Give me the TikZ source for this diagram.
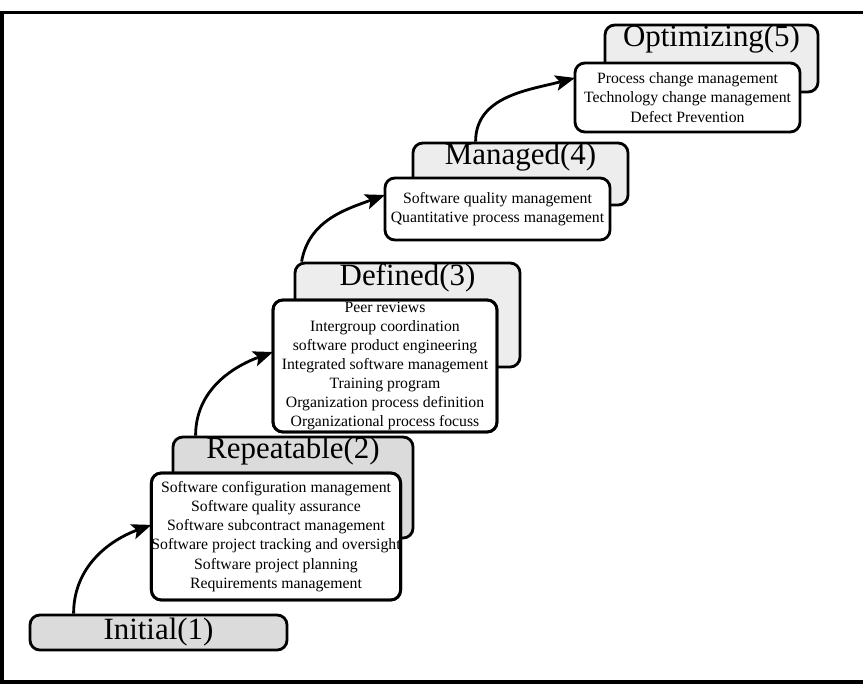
\documentclass[tikz,border=0pt]{standalone}
\usepackage{fontspec}
\setmainfont{Liberation Serif}
\usetikzlibrary{arrows.meta}

\begin{document}
\begin{tikzpicture}[
  back/.style={draw, line width=2pt, rounded corners=7pt, fill=black!7},
  front/.style={draw, line width=2pt, rounded corners=7pt, fill=white, align=center,
    font=\fontsize{11.2}{13.6}\selectfont, inner sep=0pt, outer sep=0pt},
  hdr/.style={font=\fontsize{22}{24}\selectfont, inner sep=1pt, anchor=north},
  up/.style={-{Stealth[length=14pt,width=11pt,inset=3pt]}, line width=2pt}
]
\useasboundingbox (0,0) rectangle (21.575,17.075);
\draw[line width=2.6pt] (0.05,0.03) rectangle (22,16.76);

% level 1
\node[back, fill=black!14, minimum width=6.425cm, minimum height=0.875cm, inner sep=0pt,
  font=\fontsize{22}{24}\selectfont] (init) at (3.9625,1.2625) {Initial(1)};

% level 2
\node[back, fill=black!14, minimum width=6.0cm, minimum height=2.525cm] (rep-back) at (7.325,4.8875) {};
\node[hdr] (rep-title) at (rep-back.north) {Repeatable(2)};
\node[front, minimum width=6.2cm, minimum height=3.175cm] (rep-front) at (6.9,3.6625)
  {Software configuration management\\Software quality assurance\\Software subcontract management\\
   Software project tracking and oversight\\Software project planning\\Requirements management};

% level 3
\node[back, minimum width=5.625cm, minimum height=2.6cm] (def-back) at (10.1875,9.2) {};
\node[hdr] (def-title) at (def-back.north) {Defined(3)};
\node[front, minimum width=5.6cm, minimum height=3.3cm] (def-front) at (9.625,7.925)
  {Peer reviews\\Intergroup coordination\\software product engineering\\Integrated software management\\
   Training program\\Organization process definition\\Organizational process focuss};

% level 4
\node[back, minimum width=5.375cm, minimum height=1.55cm] (man-back) at (13.0125,12.725) {};
\node[hdr] (man-title) at (man-back.north) {Managed(4)};
\node[front, minimum width=5.625cm, minimum height=1.55cm] (man-front) at (12.4375,11.85)
  {Software quality management\\Quantitative process management};

% level 5
\node[back, minimum width=5.325cm, minimum height=1.675cm] (opt-back) at (17.7875,15.6125) {};
\node[hdr] (opt-title) at (opt-back.north) {Optimizing(5)};
\node[front, minimum width=5.625cm, minimum height=1.725cm] (opt-front) at (17.1875,14.6375)
  {Process change management\\Technology change management\\Defect Prevention};

% borders over the overflowing text
\foreach \b in {rep-front, def-front}
  \draw[line width=2pt, rounded corners=7pt] (\b.south west) rectangle (\b.north east);

% steps
\draw[up] ([xshift=1.125cm]init.north west) to[out=90, in=200] ([yshift=0.29cm]rep-front.west);
\draw[up] ([xshift=0.6cm]rep-back.north west) to[out=90, in=200] ([yshift=0.35cm]def-front.west);
\draw[up] ([xshift=0.2cm]def-back.north west) to[out=80, in=200] ([yshift=0.35cm]man-front.west);
\draw[up] ([xshift=1.6cm]man-back.north west) to[out=90, in=195] ([yshift=0.49cm]opt-front.west);
\end{tikzpicture}
\end{document}
